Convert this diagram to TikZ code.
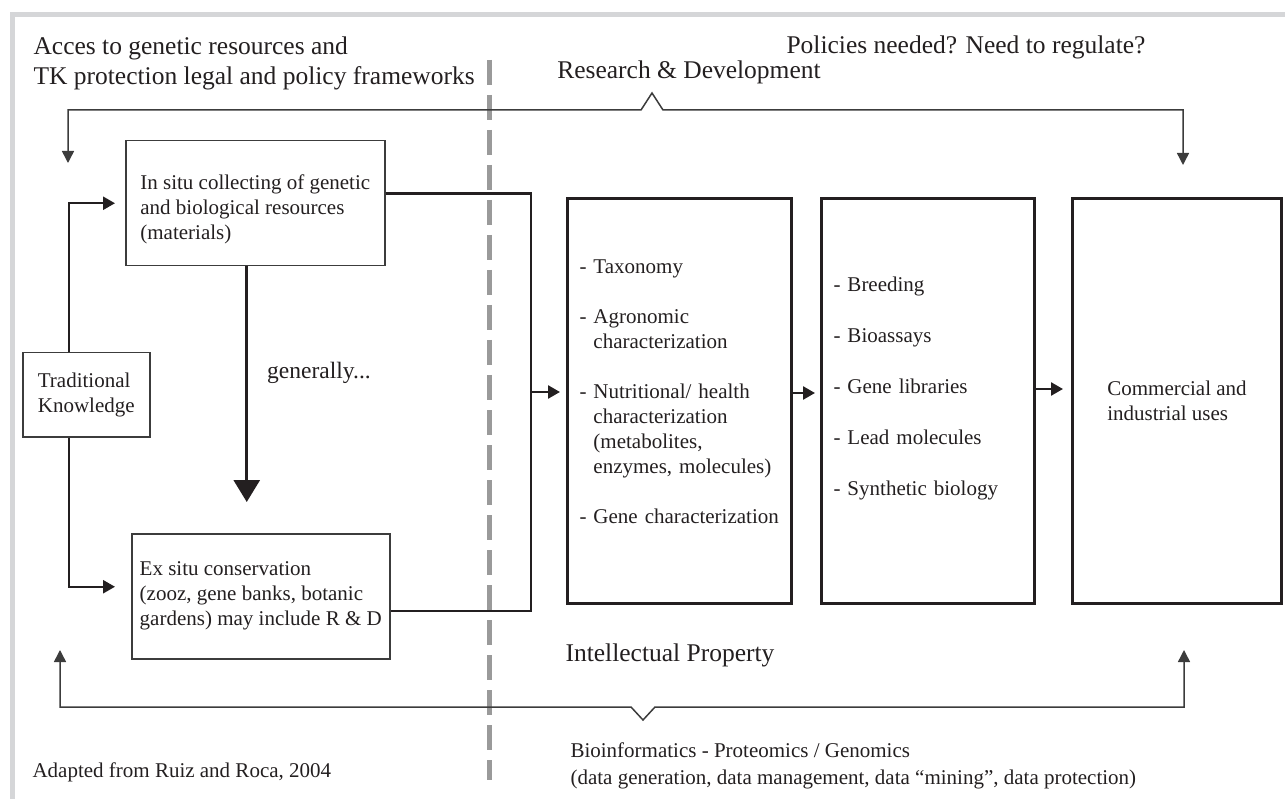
\documentclass[tikz,border=0pt]{standalone}
\usepackage{fontspec}
\setmainfont{Liberation Serif}
\usetikzlibrary{arrows.meta,positioning,calc}
\definecolor{Ink}{HTML}{231F20}
\definecolor{Edge}{HTML}{3C3C3C}
\definecolor{Frame}{HTML}{D5D6D8}
\definecolor{Divider}{HTML}{9A9A9A}
\tikzset{
  small/.style={font=\fontsize{21}{25}\selectfont,text=Ink},
  large/.style={font=\fontsize{25.5}{30}\selectfont,text=Ink},
  srcbox/.style={draw=Edge,line width=1.5pt,align=left,anchor=north west,inner sep=0pt,small},
  stagebox/.style={draw=Ink,line width=3pt,align=left,anchor=north west,inner xsep=12pt,inner ysep=0pt,minimum height=405pt,small},
  link/.style={-{Triangle[length=12pt,width=13pt]},draw=Ink,line width=2.5pt},
  thru/.style={draw=Ink,line width=2.5pt},
  bigarrow/.style={-{Triangle[length=22pt,width=26pt]},draw=Ink,line width=3pt},
  bracket/.style={{Triangle[length=12pt,width=12pt]}-{Triangle[length=12pt,width=12pt]},draw=Edge,line width=1.5pt},
}

\begin{document}
\begin{tikzpicture}[x=1pt,y=-1pt]
  \useasboundingbox (0,0) rectangle (1285,799);
  \fill[Frame] (10,12) rectangle (1285,17);
  \fill[Frame] (10,12) rectangle (15,799);
  \draw[Divider,line width=5pt,dash pattern=on 25pt off 10pt] (489,60) -- (489,780);

  \node[large,align=left,anchor=west] (access) at (30,63) {Acces to genetic resources and\\TK protection legal and policy frameworks};
  \node[large] (policies) at (966,47) {Policies needed? Need to regulate?};
  \node[large] (rnd) at (689,72) {Research \& Development};
  \node[large] (ip) at (670,655) {Intellectual Property};
  \node[font=\fontsize{23.5}{28}\selectfont,text=Ink] (general) at (319,373) {generally...};
  \node[small,align=left,anchor=west,font=\fontsize{21}{27}\selectfont] (bioinf) at (567,766) {Bioinformatics - Proteomics / Genomics\\(data generation, data management, data ``mining'', data protection)};
  \node[small,anchor=west] (source) at (29,772) {Adapted from Ruiz and Roca, 2004};

  \node[srcbox,minimum width=259pt,minimum height=125pt] (insitu) at (125,140) {\mbox{}\\[2pt]In situ collecting of genetic\\and biological resources\\(materials)};
  \node[srcbox,minimum width=258pt,minimum height=125pt] (exsitu) at (131,533) {Ex situ conservation\\(zooz, gene banks, botanic\\gardens) may include R \& D};
  \node[srcbox,minimum width=127pt,minimum height=84pt] (tk) at (22,352) {Traditional\\Knowledge};

  \node[stagebox,minimum width=224pt,text width=200pt] (taxo) at (566,197) {- Taxonomy\\[25pt]- Agronomic\\\phantom{- }characterization\\[25pt]- Nutritional/ health\\\phantom{- }characterization\\\phantom{- }(metabolites,\\\phantom{- }enzymes, molecules)\\[25pt]- Gene characterization\\[-6pt]\mbox{}};
  \node[stagebox,minimum width=213pt,text width=189pt] (breed) at (820,197) {- Breeding\\[26pt]- Bioassays\\[26pt]- Gene libraries\\[26pt]- Lead molecules\\[26pt]- Synthetic biology\\[5pt]\mbox{}};
  \node[stagebox,minimum width=209pt] (uses) at (1071,197) {Commercial and\\industrial uses};

  \coordinate (rdL) at (68,163);
  \coordinate (rdR) at (1183,165);
  \coordinate (ipL) at (60,650);
  \coordinate (ipR) at (1184,650);
  \coordinate (merge) at (531,392);

  \draw[bracket] (rdL) |- (641,110) -- (652,93) -- (663,110) -| (rdR);
  \draw[bracket] (ipL) |- (631,707) -- (643,720) -- (655,707) -| (ipR);

  \draw[link,shorten >=10pt] ([xshift=-17.5pt]tk.north) |- (insitu.west);
  \draw[link,shorten >=16pt] ([xshift=-17.5pt]tk.south) |- ([yshift=9.5pt]exsitu.west);
  \draw[bigarrow,shorten >=31pt] ([xshift=-8.5pt]insitu.south) -- ([xshift=-8.5pt]insitu.south |- exsitu.north);
  \draw[thru] ([yshift=9.5pt]insitu.east) -| (merge) |- ([yshift=-14.5pt]exsitu.east);
  \draw[link,shorten >=6pt] (merge) -- (merge -| taxo.west);
  \draw[link,shorten >=5pt] ([yshift=8pt]taxo.east) -- ([yshift=8pt]breed.west);
  \draw[link,shorten >=8pt] ([yshift=12pt]breed.east) -- ([yshift=12pt]uses.west);
\end{tikzpicture}
\end{document}
